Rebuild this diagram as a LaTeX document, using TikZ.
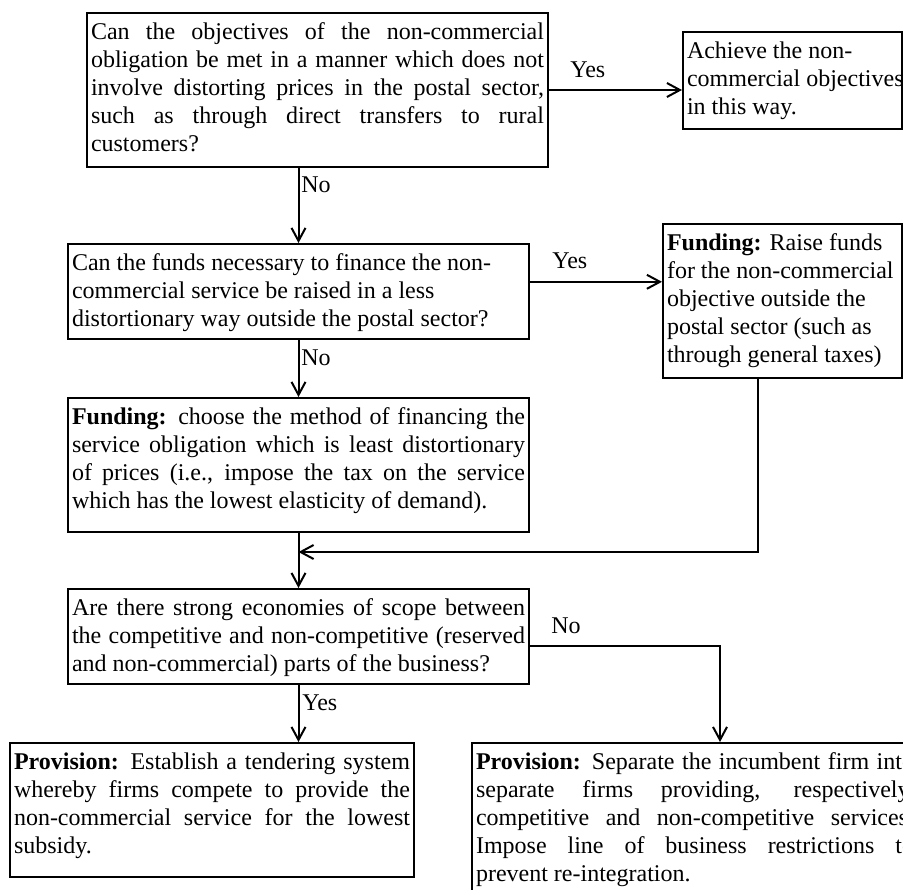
\documentclass[tikz,border=0pt]{standalone}
\usepackage{fontspec}
\setmainfont{Liberation Serif}
\usetikzlibrary{arrows.meta,calc}
\hyphenpenalty=10000
\exhyphenpenalty=10000
\tolerance=10000
\hbadness=10000
\hfuzz=30pt
\newcommand\boxtxt[3]{\parbox[t][#2][t]{#1}{\rule{0pt}{13pt}#3}}
\begin{document}
\begin{tikzpicture}[x=0.5pt,y=-0.5pt,
  every node/.style={font=\fontsize{12}{14}\selectfont, text=black},
  fbox/.style={draw, line width=1pt, anchor=north west, inner xsep=2pt, inner ysep=0pt},
  arr/.style={line width=1pt, -{Straight Barb[length=6.5pt,width=7pt]}},
  lbl/.style={anchor=base west, inner sep=0pt}]
\useasboundingbox (0,0) rectangle (903,889);
\clip (0,0) rectangle (903,889);

\node[fbox] (B1) at (86,12) {\boxtxt{226.5pt}{77pt}{Can the objectives of the non-commercial\linebreak obligation be met in a manner which does not\linebreak involve distorting prices in the postal sector,\linebreak such as through direct transfers to rural\linebreak customers?}};

\node[fbox] (B2) at (682,31) {\boxtxt{105.5pt}{48.5pt}{\raggedright Achieve the non-\\\mbox{commercial objectives}\\in this way.}};

\node[fbox] (B3) at (67,243) {\boxtxt{226.5pt}{47.5pt}{\raggedright Can the funds necessary to finance the non-\\commercial service be raised in a less\\distortionary way outside the postal sector?}};

\node[fbox] (B4) at (662,223) {\boxtxt{115.5pt}{77pt}{\raggedright \textbf{Funding:} Raise funds\\for the non-commercial\\objective outside the\\postal sector (such as\\through general taxes)}};

\node[fbox] (B5) at (67,397) {\boxtxt{226.5pt}{67pt}{\textbf{Funding:} choose the method of financing the\linebreak service obligation which is least distortionary\linebreak of prices (i.e., impose the tax on the service\linebreak which has the lowest elasticity of demand).}};

\node[fbox] (B6) at (67,588) {\boxtxt{226.5pt}{47.5pt}{Are there strong economies of scope between\linebreak the competitive and non-competitive (reserved\linebreak and non-commercial) parts of the business?}};

\node[fbox] (B7) at (9,742) {\boxtxt{198pt}{67pt}{\textbf{Provision:} Establish a tendering system\linebreak whereby firms compete to provide the\linebreak non-commercial service for the lowest\linebreak subsidy.}};

\node[fbox] (B8) at (471,742) {\boxtxt{219pt}{80pt}{\textbf{Provision:} Separate the incumbent firm into\linebreak separate firms providing, respectively,\linebreak competitive and non-competitive services.\linebreak Impose line of business restrictions to\linebreak prevent re-integration.}};

% connectors
\draw[arr] (B1.east) -- (B1.east -| B2.west);
\draw[arr] (B1.south -| B3.north) -- (B3.north);
\coordinate (p1) at ($(B3.north east)!0.4!(B3.south east)$);
\draw[arr] (p1) -- (p1 -| B4.west);
\draw[arr] (B3.south) -- (B5.north);
\coordinate (p2) at ($(B4.south west)!0.4!(B4.south east)$);
\coordinate (j) at ($(B5.south)+(0,19)$);
\draw[arr] (p2) |- (j);
\draw[arr] (B5.south) -- (B6.north);
\draw[arr] (B6.south) -- (B6.south |- B7.north);
\coordinate (p3) at ($(B6.north east)!0.6!(B6.south east)$);
\coordinate (q3) at ($(B8.north west)+(249,0)$);
\draw[arr] (p3) -| (q3);

% labels
\node[lbl] (yes1) at (570,77) {Yes};
\node[lbl] (no1) at (301,192) {No};
\node[lbl] (yes2) at (552,268) {Yes};
\node[lbl] (no2) at (301,365) {No};
\node[lbl] (yes3) at (302,710) {Yes};
\node[lbl] (no3) at (551,633) {No};
\end{tikzpicture}
\end{document}
